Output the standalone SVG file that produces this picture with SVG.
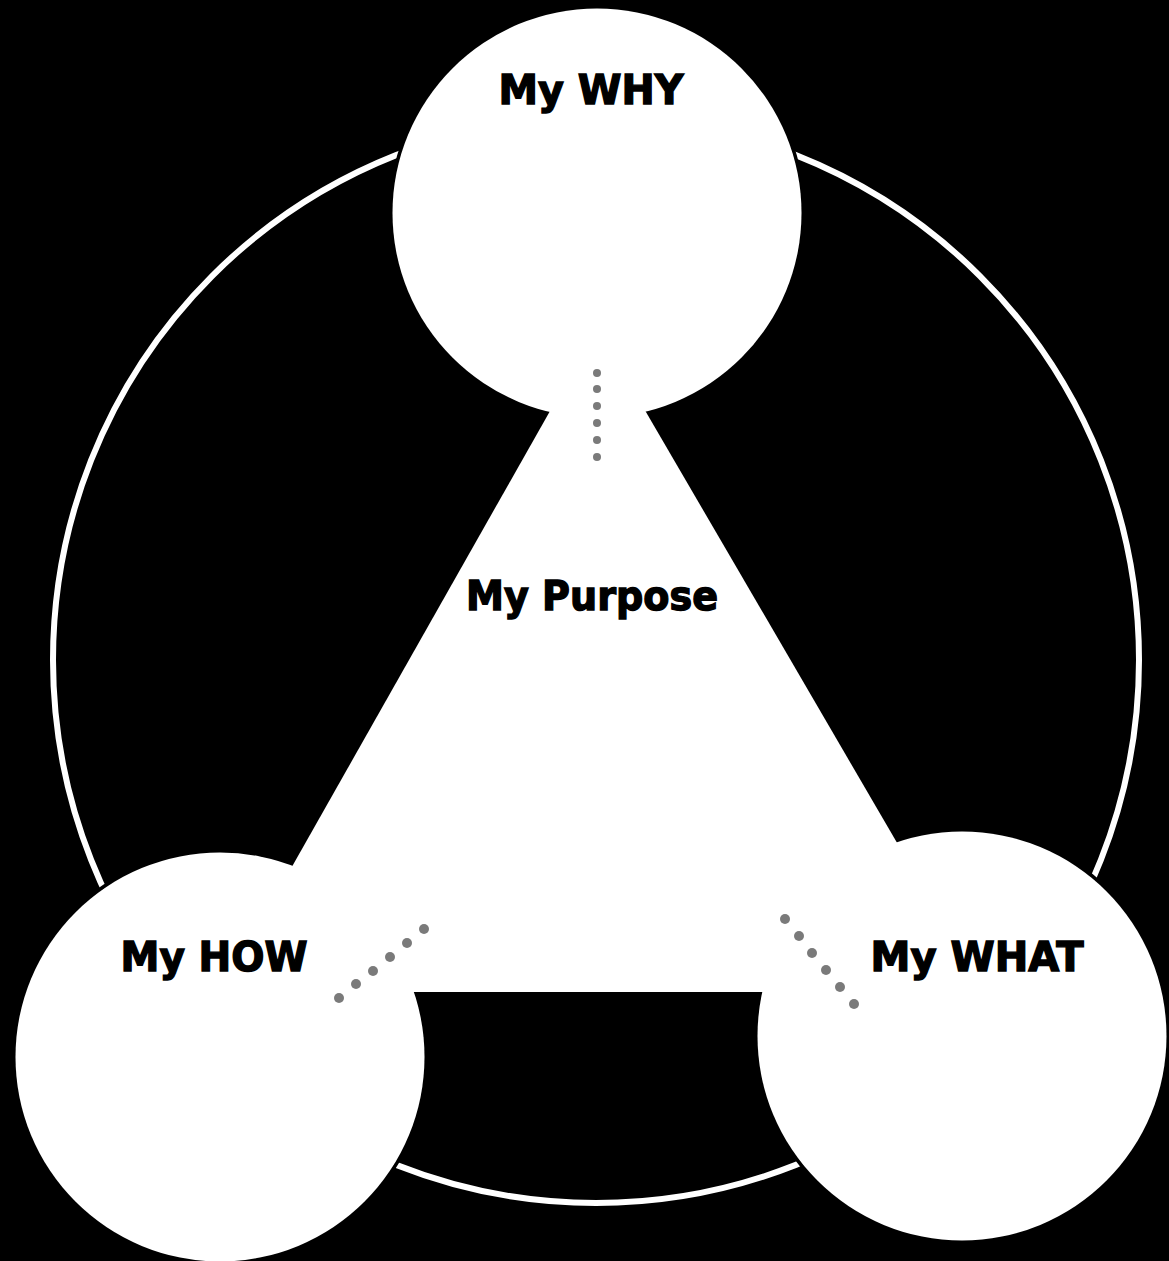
<svg xmlns="http://www.w3.org/2000/svg" width="1169" height="1261" viewBox="0 0 1169 1261">
  <style>
    .node { fill: #ffffff; }
    .gap { fill: none; stroke: #000000; stroke-width: 4; }
    .label { font-family: "DejaVu Sans", "Liberation Sans", sans-serif; font-weight: bold; font-size: 40px; fill: #000000; stroke: #000000; stroke-width: 1.4; text-anchor: middle; }
    .dot { fill: #7a7a7a; }
  </style>
  <rect x="0" y="0" width="1169" height="1261" fill="#000000"/>
  <g id="connectors">
    <circle cx="596" cy="660" r="543" fill="none" stroke="#ffffff" stroke-width="6"/>
    <circle class="gap" cx="597" cy="213" r="206"/>
    <circle class="gap" cx="220" cy="1057" r="206"/>
    <circle class="gap" cx="962" cy="1036" r="206"/>
  </g>
  <g id="purpose">
    <polygon points="597,328 221,992 984,992" fill="#ffffff"/>
    <text class="label" x="592" y="610" textLength="252" lengthAdjust="spacingAndGlyphs">My Purpose</text>
  </g>
  <g id="why">
    <circle class="node" cx="597" cy="213" r="204.5"/>
    <text class="label" x="591" y="104" textLength="185" lengthAdjust="spacingAndGlyphs">My WHY</text>
  </g>
  <g id="how">
    <circle class="node" cx="220" cy="1057" r="204.5"/>
    <text class="label" x="214" y="971" textLength="187" lengthAdjust="spacingAndGlyphs">My HOW</text>
  </g>
  <g id="what">
    <circle class="node" cx="962" cy="1036" r="204.5"/>
    <text class="label" x="977" y="971" textLength="213" lengthAdjust="spacingAndGlyphs">My WHAT</text>
  </g>
  <g id="dots">
    <circle class="dot" cx="597" cy="373" r="4"/>
    <circle class="dot" cx="597" cy="389" r="4"/>
    <circle class="dot" cx="597" cy="406" r="4"/>
    <circle class="dot" cx="597" cy="423" r="4"/>
    <circle class="dot" cx="597" cy="440" r="4"/>
    <circle class="dot" cx="597" cy="457" r="4"/>
    <circle class="dot" cx="424" cy="929" r="5"/>
    <circle class="dot" cx="407" cy="943" r="5"/>
    <circle class="dot" cx="390" cy="957" r="5"/>
    <circle class="dot" cx="373" cy="971" r="5"/>
    <circle class="dot" cx="356" cy="984" r="5"/>
    <circle class="dot" cx="339" cy="998" r="5"/>
    <circle class="dot" cx="785" cy="919" r="5"/>
    <circle class="dot" cx="799" cy="936" r="5"/>
    <circle class="dot" cx="812" cy="953" r="5"/>
    <circle class="dot" cx="826" cy="970" r="5"/>
    <circle class="dot" cx="840" cy="987" r="5"/>
    <circle class="dot" cx="854" cy="1004" r="5"/>
  </g>
</svg>
